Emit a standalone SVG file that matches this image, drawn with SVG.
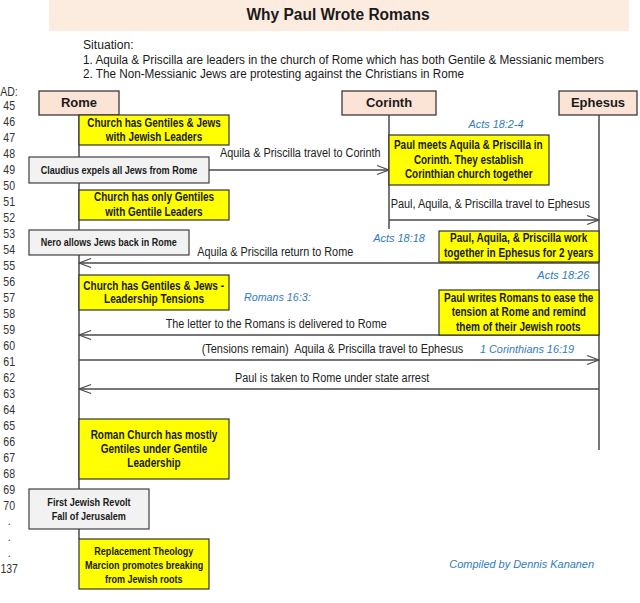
<svg xmlns="http://www.w3.org/2000/svg" width="640" height="603" viewBox="0 0 640 603">
<defs>
<style>
text{font-family:"Liberation Sans",Arial,"DejaVu Sans",sans-serif;fill:#1a1a1a}
.title{font-size:16px;font-weight:bold;text-anchor:middle}
.sit{font-size:12.5px}
.yr{font-size:12px;text-anchor:middle;fill:#333}
.hdr{fill:#FBE4D5;stroke:#3a3a3a;stroke-width:1.3}
.hdrt{font-size:13px;font-weight:bold;text-anchor:middle}
.ybox{fill:#FFFF00;stroke:#333;stroke-width:1.2}
.gbox{fill:#F2F2F2;stroke:#404040;stroke-width:1.2}
.bt{font-size:12px;font-weight:bold;text-anchor:middle}
.bts{font-size:11px;font-weight:bold;text-anchor:middle}
.life{stroke:#4a4a4a;stroke-width:1.5}
.msg{stroke:#4a4a4a;stroke-width:1.3;fill:none}
.lbl{font-size:12px;text-anchor:middle;fill:#222}
.ref{font-size:11.5px;font-style:italic;text-anchor:middle;fill:#2E7BBF}
</style>
<marker id="arr" viewBox="-13 -6 14 12" refX="0" refY="0" markerWidth="14" markerHeight="12" markerUnits="userSpaceOnUse" orient="auto">
<path d="M-12,-4.5 L0,0 L-12,4.5" fill="none" stroke="#4a4a4a" stroke-width="1.3"/>
</marker>
</defs>
<rect width="640" height="603" fill="#ffffff"/>

<g id="title">
<rect x="49" y="0" width="580" height="31" fill="#FCEBDF"/>
<text class="title" x="338" y="20" textLength="183" lengthAdjust="spacingAndGlyphs">Why Paul Wrote Romans</text>
</g>

<g id="situation">
<text class="sit" x="83" y="49" textLength="50.7" lengthAdjust="spacingAndGlyphs">Situation:</text>
<text class="sit" x="83" y="63.5" textLength="521" lengthAdjust="spacingAndGlyphs">1. Aquila &amp; Priscilla are leaders in the church of Rome which has both Gentile &amp; Messianic members</text>
<text class="sit" x="83" y="77.5" textLength="381" lengthAdjust="spacingAndGlyphs">2. The Non-Messianic Jews are protesting against the Christians in Rome</text>
</g>

<g id="years" transform="scale(0.88,1)">
<text class="yr" x="10.2" y="96">AD:</text>
<text class="yr" x="10.45" y="110">45</text>
<text class="yr" x="10.45" y="126">46</text>
<text class="yr" x="10.45" y="142">47</text>
<text class="yr" x="10.45" y="158">48</text>
<text class="yr" x="10.45" y="174">49</text>
<text class="yr" x="10.45" y="190">50</text>
<text class="yr" x="10.45" y="206">51</text>
<text class="yr" x="10.45" y="222">52</text>
<text class="yr" x="10.45" y="238">53</text>
<text class="yr" x="10.45" y="254">54</text>
<text class="yr" x="10.45" y="270">55</text>
<text class="yr" x="10.45" y="286">56</text>
<text class="yr" x="10.45" y="302">57</text>
<text class="yr" x="10.45" y="318">58</text>
<text class="yr" x="10.45" y="334">59</text>
<text class="yr" x="10.45" y="350">60</text>
<text class="yr" x="10.45" y="366">61</text>
<text class="yr" x="10.45" y="382">62</text>
<text class="yr" x="10.45" y="398">63</text>
<text class="yr" x="10.45" y="414">64</text>
<text class="yr" x="10.45" y="430">65</text>
<text class="yr" x="10.45" y="446">66</text>
<text class="yr" x="10.45" y="462">67</text>
<text class="yr" x="10.45" y="478">68</text>
<text class="yr" x="10.45" y="494">69</text>
<text class="yr" x="10.45" y="510">70</text>
<text class="yr" x="10.45" y="525">.</text>
<text class="yr" x="10.45" y="541">.</text>
<text class="yr" x="10.45" y="557">.</text>
<text class="yr" x="10.45" y="573">137</text>
</g>

<g id="lifelines">
<line class="life" x1="79" y1="115" x2="79" y2="539"/>
<line class="life" x1="389" y1="115" x2="389" y2="229"/>
<line class="life" x1="599" y1="115" x2="599" y2="450"/>
</g>

<g id="rome">
<rect class="hdr" x="39" y="91" width="80" height="24"/>
<text class="hdrt" x="79" y="106.5">Rome</text>
</g>
<g id="corinth">
<rect class="hdr" x="342" y="91" width="94" height="24"/>
<text class="hdrt" x="389" y="106.5">Corinth</text>
</g>
<g id="ephesus">
<rect class="hdr" x="559" y="91" width="78" height="24"/>
<text class="hdrt" x="598" y="106.5">Ephesus</text>
</g>

<g id="connectors">
<line class="msg" x1="209" y1="170" x2="389" y2="170" marker-end="url(#arr)"/>
<line class="msg" x1="389" y1="220" x2="599" y2="220" marker-end="url(#arr)"/>
<line class="msg" x1="599" y1="263" x2="79" y2="263" marker-end="url(#arr)"/>
<line class="msg" x1="599" y1="335" x2="79" y2="335" marker-end="url(#arr)"/>
<line class="msg" x1="79" y1="360" x2="599" y2="360" marker-end="url(#arr)"/>
<line class="msg" x1="599" y1="389" x2="79" y2="389" marker-end="url(#arr)"/>
<text class="lbl" x="300.3" y="157" textLength="160.7" lengthAdjust="spacingAndGlyphs">Aquila &amp; Priscilla travel to Corinth</text>
<text class="lbl" x="490.3" y="208" textLength="199.3" lengthAdjust="spacingAndGlyphs">Paul, Aquila, &amp; Priscilla travel to Ephesus</text>
<text class="lbl" x="275.2" y="256" textLength="156" lengthAdjust="spacingAndGlyphs">Aquila &amp; Priscilla return to Rome</text>
<text class="lbl" x="276.2" y="327.5" textLength="221" lengthAdjust="spacingAndGlyphs">The letter to the Romans is delivered to Rome</text>
<text class="lbl" x="332.5" y="353" textLength="261.7" lengthAdjust="spacingAndGlyphs" xml:space="preserve">(Tensions remain)  Aquila &amp; Priscilla travel to Ephesus</text>
<text class="lbl" x="332.2" y="382" textLength="194.3" lengthAdjust="spacingAndGlyphs">Paul is taken to Rome under state arrest</text>
</g>

<g id="refs">
<text class="ref" x="496" y="128" textLength="55" lengthAdjust="spacingAndGlyphs">Acts 18:2-4</text>
<text class="ref" x="399" y="242" textLength="51.7" lengthAdjust="spacingAndGlyphs">Acts 18:18</text>
<text class="ref" x="563.3" y="278.5" textLength="52" lengthAdjust="spacingAndGlyphs">Acts 18:26</text>
<text class="ref" x="277.3" y="301" textLength="66.7" lengthAdjust="spacingAndGlyphs">Romans 16:3:</text>
<text class="ref" x="527" y="353" textLength="94" lengthAdjust="spacingAndGlyphs">1 Corinthians 16:19</text>
<text class="ref" x="521.7" y="568" textLength="144.7" lengthAdjust="spacingAndGlyphs">Compiled by Dennis Kananen</text>
</g>

<g id="church-mixed-jewish">
<rect class="ybox" x="79" y="115" width="150" height="30"/>
<text class="bt" x="154" y="126.5" textLength="133.4" lengthAdjust="spacingAndGlyphs">Church has Gentiles &amp; Jews</text>
<text class="bt" x="154" y="141" textLength="96.3" lengthAdjust="spacingAndGlyphs">with Jewish Leaders</text>
</g>

<g id="claudius">
<rect class="gbox" x="29" y="157" width="180" height="26"/>
<text class="bts" x="119" y="173.5" textLength="156.7" lengthAdjust="spacingAndGlyphs">Claudius expels all Jews from Rome</text>
</g>

<g id="church-gentiles">
<rect class="ybox" x="79" y="190" width="150" height="30"/>
<text class="bt" x="154" y="201" textLength="120" lengthAdjust="spacingAndGlyphs">Church has only Gentiles</text>
<text class="bt" x="154" y="216" textLength="97.3" lengthAdjust="spacingAndGlyphs">with Gentile Leaders</text>
</g>

<g id="nero">
<rect class="gbox" x="29" y="230" width="160" height="25"/>
<text class="bts" x="108.7" y="246" textLength="136" lengthAdjust="spacingAndGlyphs">Nero allows Jews back in Rome</text>
</g>

<g id="corinth-church">
<rect class="ybox" x="389" y="135" width="160" height="50"/>
<text class="bt" x="468.3" y="149.3" textLength="148.7" lengthAdjust="spacingAndGlyphs">Paul meets Aquila &amp; Priscilla in</text>
<text class="bt" x="468.6" y="163.7" textLength="109.3" lengthAdjust="spacingAndGlyphs">Corinth. They establish</text>
<text class="bt" x="468.8" y="177.7" textLength="127.7" lengthAdjust="spacingAndGlyphs">Corinthian church together</text>
</g>

<g id="ephesus-work">
<rect class="ybox" x="439" y="231" width="160" height="31"/>
<text class="bt" x="518.7" y="242" textLength="137.3" lengthAdjust="spacingAndGlyphs">Paul, Aquila, &amp; Priscilla work</text>
<text class="bt" x="518.7" y="257" textLength="149.3" lengthAdjust="spacingAndGlyphs">together in Ephesus for 2 years</text>
</g>

<g id="church-tensions">
<rect class="ybox" x="79" y="275" width="150" height="35"/>
<text class="bt" x="153.7" y="289.5" textLength="140.7" lengthAdjust="spacingAndGlyphs">Church has Gentiles &amp; Jews -</text>
<text class="bt" x="154" y="303.3" textLength="100" lengthAdjust="spacingAndGlyphs">Leadership Tensions</text>
</g>

<g id="paul-writes">
<rect class="ybox" x="439" y="290" width="160" height="45"/>
<text class="bt" x="518.7" y="301.5" textLength="149.3" lengthAdjust="spacingAndGlyphs">Paul writes Romans to ease the</text>
<text class="bt" x="518.8" y="316.3" textLength="134.3" lengthAdjust="spacingAndGlyphs">tension at Rome and remind</text>
<text class="bt" x="518.3" y="330.8" textLength="124.7" lengthAdjust="spacingAndGlyphs">them of their Jewish roots</text>
</g>

<g id="roman-church">
<rect class="ybox" x="79" y="419" width="150" height="60"/>
<text class="bt" x="154" y="438.5" textLength="126.7" lengthAdjust="spacingAndGlyphs">Roman Church has mostly</text>
<text class="bt" x="154" y="452.8" textLength="106.7" lengthAdjust="spacingAndGlyphs">Gentiles under Gentile</text>
<text class="bt" x="154" y="466.8" textLength="53.3" lengthAdjust="spacingAndGlyphs">Leadership</text>
</g>

<g id="revolt">
<rect class="gbox" x="29" y="489" width="120" height="40"/>
<text class="bts" x="89" y="506.3" textLength="83.3" lengthAdjust="spacingAndGlyphs">First Jewish Revolt</text>
<text class="bts" x="88.8" y="520.3" textLength="74.3" lengthAdjust="spacingAndGlyphs">Fall of Jerusalem</text>
</g>

<g id="replacement">
<rect class="ybox" x="79" y="539" width="130" height="50"/>
<text class="bts" x="143.8" y="555" textLength="99" lengthAdjust="spacingAndGlyphs">Replacement Theology</text>
<text class="bts" x="144.2" y="569" textLength="118.3" lengthAdjust="spacingAndGlyphs">Marcion promotes breaking</text>
<text class="bts" x="143.8" y="582.5" textLength="77.7" lengthAdjust="spacingAndGlyphs">from Jewish roots</text>
</g>
</svg>
